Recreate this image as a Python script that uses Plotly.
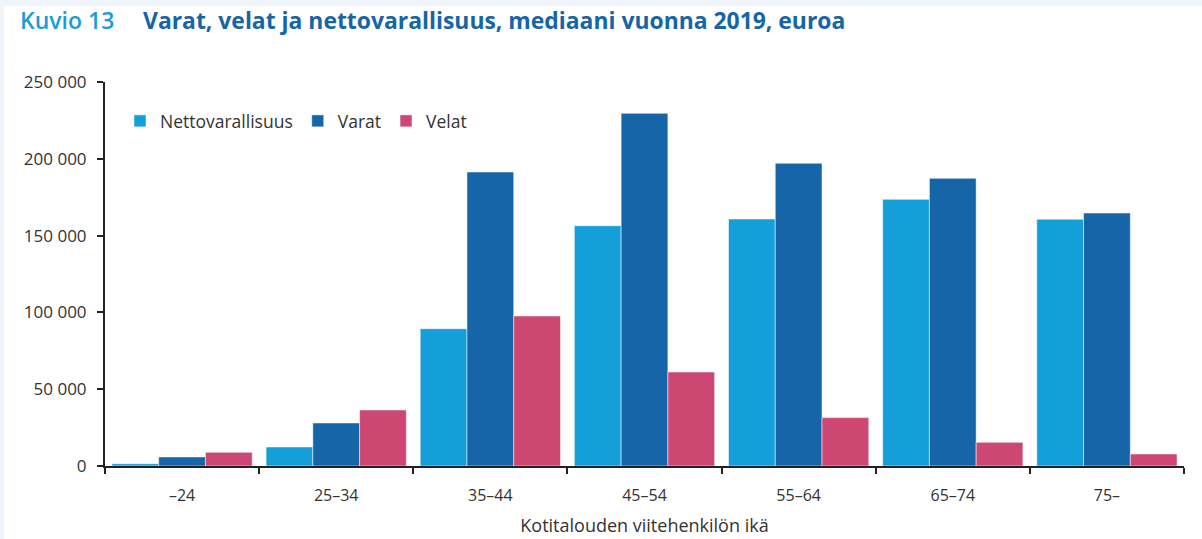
import plotly.graph_objects as go

# Age groups of the household reference person
ages = ["–24", "25–34", "35–44", "45–54", "55–64", "65–74", "75–"]

# Medians in euros
netto = [1500, 12400, 89400, 156400, 160800, 173600, 160600]
varat = [5900, 28000, 191400, 229600, 197100, 187300, 164700]
velat = [8900, 36500, 97700, 61200, 31500, 15400, 7800]

y_ticks = [0, 50000, 100000, 150000, 200000, 250000]
y_labels = ["0", "50 000", "100 000", "150 000", "200 000", "250 000"]

W, H = 1202, 539
L, R, T, B = 105, 18, 82, 73
pw, ph = W - L - R, H - T - B


# pixel -> paper coordinates
def px(x):
    return (x - L) / pw


def py(y):
    return (H - B - y) / ph


edge = dict(color="rgba(255,255,255,0.5)", width=1)

fig = go.Figure()
fig.add_trace(go.Bar(name="Nettovarallisuus", x=ages, y=netto, marker=dict(color="#159fd9", line=edge)))
fig.add_trace(go.Bar(name="Varat", x=ages, y=varat, marker=dict(color="#1665a8", line=edge)))
fig.add_trace(go.Bar(name="Velat", x=ages, y=velat, marker=dict(color="#cc4873", line=edge)))

fig.update_layout(
    width=W, height=H,
    margin=dict(l=L, r=R, t=T, b=B),
    paper_bgcolor="#eef4fa",
    plot_bgcolor="white",
    font=dict(family="Open Sans", size=16, color="#333333"),
    barmode="group",
    bargap=0.09,
    bargroupgap=0,
    showlegend=True,
    legend=dict(orientation="h", x=px(120), y=py(121), xanchor="left", yanchor="middle",
                font=dict(size=17.5, color="#333333"), bgcolor="rgba(0,0,0,0)",
                itemwidth=30, traceorder="normal"),
)

# white page with a thin tinted strip at top and left
fig.add_shape(type="rect", xref="paper", yref="paper", layer="below",
              x0=px(4), x1=px(W + 5), y0=py(H + 5), y1=py(6),
              fillcolor="white", line=dict(width=0))

fig.update_xaxes(
    showline=True, linecolor="#222222", linewidth=2, automargin=False,
    ticks="outside", tickson="boundaries", ticklen=6, tickwidth=2, tickcolor="#222222",
    showgrid=False, tickfont=dict(size=16), ticklabelstandoff=14,
    title=dict(text="Kotitalouden viitehenkilön ikä", font=dict(size=18), standoff=14),
)
fig.update_yaxes(
    range=[0, 250000], tickvals=y_ticks, ticktext=y_labels,
    showline=True, linecolor="#222222", linewidth=2, automargin=False,
    ticks="outside", ticklen=6, tickwidth=2, tickcolor="#222222",
    showgrid=False, zeroline=False, tickfont=dict(size=17), ticklabelstandoff=7,
)

fig.add_annotation(text="Kuvio 13", xref="paper", yref="paper",
                   x=px(18), y=py(20), xanchor="left", yanchor="middle", showarrow=False,
                   font=dict(family="Open Sans", size=23, weight=600, color="#1a9cd8"))
fig.add_annotation(text="Varat, velat ja nettovarallisuus, mediaani vuonna 2019, euroa",
                   xref="paper", yref="paper",
                   x=px(141), y=py(20), xanchor="left", yanchor="middle", showarrow=False,
                   font=dict(family="Open Sans", size=22.9, weight="bold", color="#1565a8"))

# drop the default page margin so the figure sits at the window's corner
fig.write_html("out.html", config={"displayModeBar": False},
               post_script="document.body.style.margin='0';")
